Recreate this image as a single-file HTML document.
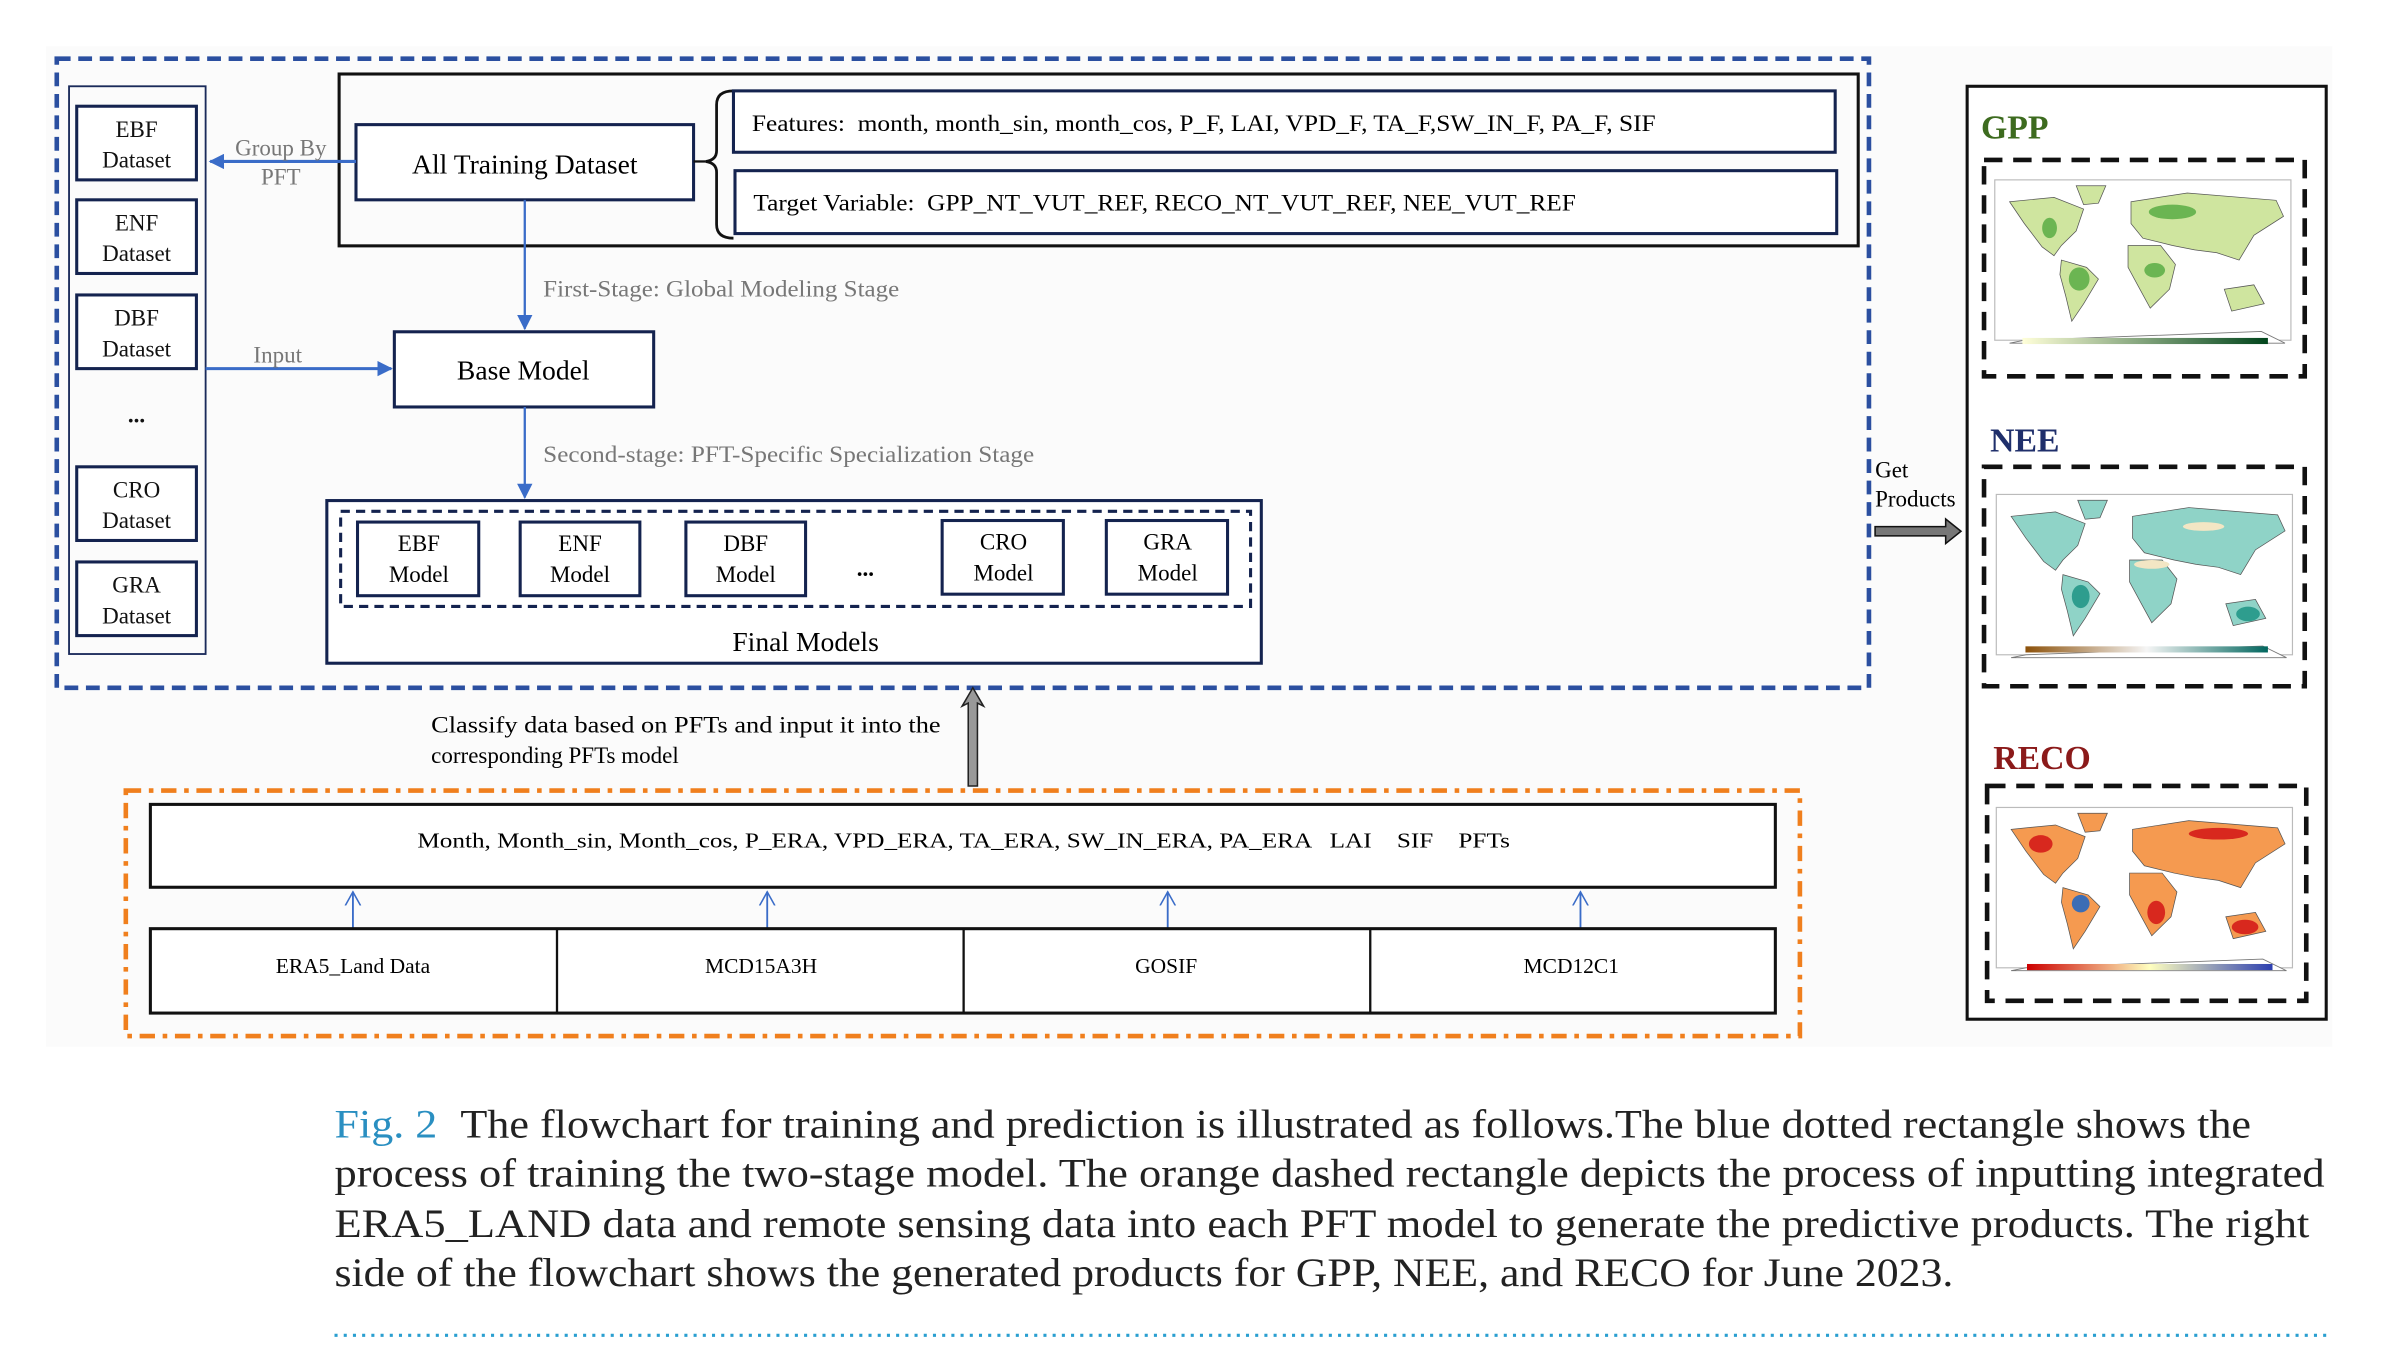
<!DOCTYPE html>
<html><head><meta charset="utf-8"><style>
html,body{margin:0;padding:0;background:#fff;}
svg{display:block;}
text{font-family:"Liberation Serif",serif;}
</style></head><body>
<svg width="2406" height="1351" viewBox="0 0 1568 880" xmlns="http://www.w3.org/2000/svg">
<defs>
<marker id="ab" markerWidth="10" markerHeight="10" refX="9" refY="5" orient="auto" markerUnits="userSpaceOnUse"><path d="M0,0 L10,5 L0,10 Z" fill="#3a6cc8"/></marker>
<marker id="ao" markerWidth="10" markerHeight="12" refX="9" refY="6" orient="auto" markerUnits="userSpaceOnUse"><path d="M0,1 L9,6 L0,11" fill="none" stroke="#3a6cc8" stroke-width="1"/></marker>
<g id="cont">
<path d="M10,15 L40,12 L60,20 L55,35 L45,45 L40,52 L32,46 L20,30 Z"/>
<path d="M55,4 L75,4 L70,16 L60,17Z"/>
<path d="M45,55 L62,60 L70,68 L60,85 L52,97 L48,80 L44,65Z"/>
<path d="M90,45 L112,45 L122,58 L118,75 L105,88 L98,75 L90,60Z"/>
<path d="M92,15 L130,9 L190,14 L195,25 L175,38 L165,55 L150,50 L135,48 L120,45 L100,40 L92,30Z"/>
<path d="M155,75 L175,72 L182,85 L160,90Z"/>
</g>
<linearGradient id="gg"><stop offset="0" stop-color="#ffffd9"/><stop offset="1" stop-color="#00441b"/></linearGradient>
<linearGradient id="ng"><stop offset="0" stop-color="#8c510a"/><stop offset="0.5" stop-color="#f5f5f5"/><stop offset="1" stop-color="#01665e"/></linearGradient>
<linearGradient id="rg"><stop offset="0" stop-color="#c00"/><stop offset="0.5" stop-color="#ffffbf"/><stop offset="1" stop-color="#2c3fb0"/></linearGradient>
</defs>
<rect x="30" y="30" width="1490" height="652" fill="#fbfbfb"/>
<rect x="37" y="38" width="1181" height="410" fill="none" stroke="#2b4fa0" stroke-width="3" stroke-dasharray="9,5"/>
<rect x="45" y="56" width="89" height="370" fill="none" stroke="#1a2a5a" stroke-width="1.2"/>
<g fill="#fff" stroke="#14234f" stroke-width="2">
<rect x="50" y="69" width="78" height="48"/><rect x="50" y="130" width="78" height="48"/><rect x="50" y="192" width="78" height="48"/>
<rect x="50" y="304" width="78" height="48"/><rect x="50" y="366" width="78" height="48"/>
</g>
<g font-size="15" text-anchor="middle" fill="#111">
<text x="89" y="89">EBF</text><text x="89" y="109">Dataset</text>
<text x="89" y="150">ENF</text><text x="89" y="170">Dataset</text>
<text x="89" y="212">DBF</text><text x="89" y="232">Dataset</text>
<text x="89" y="275" font-weight="bold">...</text>
<text x="89" y="324">CRO</text><text x="89" y="344">Dataset</text>
<text x="89" y="386">GRA</text><text x="89" y="406">Dataset</text>
</g>
<rect x="221" y="48" width="990" height="112" fill="none" stroke="#111" stroke-width="2"/>
<rect x="232" y="81" width="220" height="49" fill="#fff" stroke="#14234f" stroke-width="2"/>
<text x="342" y="113" font-size="18" text-anchor="middle">All Training Dataset</text>
<path d="M478,59 Q467,59 467,68 L467,98 Q467,104 460,105 Q467,106 467,112 L467,146 Q467,155 478,155" fill="none" stroke="#111" stroke-width="1.8"/>
<line x1="452" y1="105" x2="460" y2="105" stroke="#111" stroke-width="1.5"/>
<rect x="478" y="59" width="718" height="40" fill="#fff" stroke="#14234f" stroke-width="2"/>
<rect x="479" y="111" width="718" height="41" fill="#fff" stroke="#14234f" stroke-width="2"/>
<text x="490" y="85" font-size="15" xml:space="preserve" textLength="589" lengthAdjust="spacingAndGlyphs">Features:  month, month_sin, month_cos, P_F, LAI, VPD_F, TA_F,SW_IN_F, PA_F, SIF</text>
<text x="491" y="137" font-size="15" xml:space="preserve" textLength="536" lengthAdjust="spacingAndGlyphs">Target Variable:  GPP_NT_VUT_REF, RECO_NT_VUT_REF, NEE_VUT_REF</text>
<line x1="232" y1="105" x2="137" y2="105" stroke="#3a6cc8" stroke-width="2" marker-end="url(#ab)"/>
<text x="183" y="101" font-size="15" fill="#777" text-anchor="middle">Group By</text>
<text x="183" y="120" font-size="15" fill="#777" text-anchor="middle">PFT</text>
<line x1="342" y1="130" x2="342" y2="214" stroke="#3a6cc8" stroke-width="1.5" marker-end="url(#ab)"/>
<text x="354" y="193" font-size="15" fill="#777" textLength="232" lengthAdjust="spacingAndGlyphs">First-Stage: Global Modeling Stage</text>
<rect x="257" y="216" width="169" height="49" fill="#fff" stroke="#14234f" stroke-width="2"/>
<text x="341" y="247" font-size="18" text-anchor="middle">Base Model</text>
<line x1="134" y1="240" x2="255" y2="240" stroke="#3a6cc8" stroke-width="2" marker-end="url(#ab)"/>
<text x="181" y="236" font-size="15" fill="#777" text-anchor="middle">Input</text>
<line x1="342" y1="265" x2="342" y2="324" stroke="#3a6cc8" stroke-width="1.5" marker-end="url(#ab)"/>
<text x="354" y="301" font-size="15" fill="#777" textLength="320" lengthAdjust="spacingAndGlyphs">Second-stage: PFT-Specific Specialization Stage</text>
<rect x="213" y="326" width="609" height="106" fill="#fff" stroke="#14234f" stroke-width="2"/>
<rect x="222" y="333" width="593" height="62" fill="none" stroke="#14234f" stroke-width="2" stroke-dasharray="6,4"/>
<g fill="#fff" stroke="#14234f" stroke-width="2">
<rect x="233" y="340" width="79" height="48"/><rect x="339" y="340" width="78" height="48"/><rect x="447" y="340" width="78" height="48"/>
<rect x="614" y="339" width="79" height="48"/><rect x="721" y="339" width="79" height="48"/>
</g>
<g font-size="15" text-anchor="middle">
<text x="273" y="359">EBF</text><text x="273" y="379">Model</text>
<text x="378" y="359">ENF</text><text x="378" y="379">Model</text>
<text x="486" y="359">DBF</text><text x="486" y="379">Model</text>
<text x="564" y="375" font-weight="bold">...</text>
<text x="654" y="358">CRO</text><text x="654" y="378">Model</text>
<text x="761" y="358">GRA</text><text x="761" y="378">Model</text>
</g>
<text x="525" y="424" font-size="18" text-anchor="middle">Final Models</text>
<text x="1222" y="311" font-size="15">Get</text>
<text x="1222" y="330" font-size="15">Products</text>
<path d="M1222,343 L1268,343 L1268,338 L1278,346 L1268,354 L1268,349 L1222,349 Z" fill="#777" stroke="#111" stroke-width="1"/>
<rect x="1282" y="56" width="234" height="608" fill="#fff" stroke="#111" stroke-width="2"/>
<text x="1291" y="90" font-size="22" font-weight="bold" fill="#3d6b1f">GPP</text>
<text x="1297" y="294" font-size="22" font-weight="bold" fill="#1f2f6b">NEE</text>
<text x="1299" y="501" font-size="22" font-weight="bold" fill="#8b1a1a">RECO</text>
<g fill="none" stroke="#111" stroke-width="3" stroke-dasharray="12,7">
<rect x="1293" y="104" width="209" height="141"/>
<rect x="1293" y="304" width="209" height="143"/>
<rect x="1295" y="512" width="208" height="140"/>
</g>
<g transform="translate(1300,117) scale(0.965,0.95)">
<rect x="0" y="0" width="200" height="110" fill="#fff" stroke="#bbb" stroke-width="0.8"/>
<g fill="#cfe59f" stroke="#555" stroke-width="0.5"><use href="#cont"/></g>
<path d="M20,110 L180,104 L196,112 L10,112Z" fill="#fff" stroke="#777" stroke-width="0.6"/>
<g fill="#6bb552"><ellipse cx="57" cy="68" rx="7" ry="8"/><ellipse cx="37" cy="33" rx="5" ry="7"/><ellipse cx="120" cy="22" rx="16" ry="5"/><ellipse cx="108" cy="62" rx="7" ry="5"/></g>
</g>
<rect x="1318" y="220" width="160" height="4" fill="url(#gg)"/>
<g transform="translate(1301,322) scale(0.965,0.95)">
<rect x="0" y="0" width="200" height="110" fill="#fff" stroke="#bbb" stroke-width="0.8"/>
<g fill="#8fd3c7" stroke="#555" stroke-width="0.5"><use href="#cont"/></g>
<path d="M20,110 L180,104 L196,112 L10,112Z" fill="#fff" stroke="#777" stroke-width="0.6"/>
<g fill="#2e9d8e"><ellipse cx="170" cy="82" rx="8" ry="5"/><ellipse cx="57" cy="70" rx="6" ry="8"/></g>
<g fill="#f3e6c4"><ellipse cx="105" cy="48" rx="12" ry="3"/><ellipse cx="140" cy="22" rx="14" ry="3"/></g>
</g>
<rect x="1320" y="421" width="158" height="4" fill="url(#ng)"/>
<g transform="translate(1301,526) scale(0.965,0.95)">
<rect x="0" y="0" width="200" height="110" fill="#fff" stroke="#bbb" stroke-width="0.8"/>
<g fill="#f59a50" stroke="#555" stroke-width="0.5"><use href="#cont"/></g>
<path d="M20,110 L180,104 L196,112 L10,112Z" fill="#fff" stroke="#777" stroke-width="0.6"/>
<g fill="#d8281e"><ellipse cx="168" cy="82" rx="9" ry="5"/><ellipse cx="108" cy="72" rx="6" ry="8"/><ellipse cx="30" cy="25" rx="8" ry="6"/><ellipse cx="150" cy="18" rx="20" ry="4"/></g>
<ellipse cx="57" cy="66" rx="6" ry="6" fill="#3b6db5"/>
</g>
<rect x="1321" y="628" width="160" height="4" fill="url(#rg)"/>
<path d="M631,512 L631,458 L627,460 L634,448 L641,460 L637,458 L637,512 Z" fill="#999" stroke="#222" stroke-width="1"/>
<text x="281" y="477" font-size="15" textLength="332" lengthAdjust="spacingAndGlyphs">Classify data based on PFTs and input it into the</text>
<text x="281" y="497" font-size="15">corresponding PFTs model</text>
<rect x="82" y="515" width="1091" height="160" fill="none" stroke="#f07f1d" stroke-width="3" stroke-dasharray="10,5,3,5"/>
<rect x="98" y="524" width="1059" height="54" fill="#fff" stroke="#111" stroke-width="2"/>
<text x="272" y="552" font-size="14" xml:space="preserve" textLength="712" lengthAdjust="spacingAndGlyphs">Month, Month_sin, Month_cos, P_ERA, VPD_ERA, TA_ERA, SW_IN_ERA, PA_ERA   LAI    SIF    PFTs</text>
<g stroke="#3a6cc8" stroke-width="1.2">
<line x1="230" y1="605" x2="230" y2="581" marker-end="url(#ao)"/>
<line x1="500" y1="605" x2="500" y2="581" marker-end="url(#ao)"/>
<line x1="761" y1="605" x2="761" y2="581" marker-end="url(#ao)"/>
<line x1="1030" y1="605" x2="1030" y2="581" marker-end="url(#ao)"/>
</g>
<rect x="98" y="605" width="1059" height="55" fill="#fff" stroke="#111" stroke-width="2"/>
<g stroke="#111" stroke-width="1.5"><line x1="363" y1="605" x2="363" y2="660"/><line x1="628" y1="605" x2="628" y2="660"/><line x1="893" y1="605" x2="893" y2="660"/></g>
<g font-size="14" text-anchor="middle">
<text x="230" y="634">ERA5_Land Data</text><text x="496" y="634">MCD15A3H</text><text x="760" y="634">GOSIF</text><text x="1024" y="634">MCD12C1</text>
</g>
<g font-size="26" fill="#222">
<text x="218" y="741" fill="#2a8fc1" textLength="67" lengthAdjust="spacingAndGlyphs">Fig. 2</text>
<text x="300" y="741" textLength="1167" lengthAdjust="spacingAndGlyphs">The flowchart for training and prediction is illustrated as follows.The blue dotted rectangle shows the</text>
<text x="218" y="773" textLength="1297" lengthAdjust="spacingAndGlyphs">process of training the two-stage model. The orange dashed rectangle depicts the process of inputting integrated</text>
<text x="218" y="806" textLength="1287" lengthAdjust="spacingAndGlyphs">ERA5_LAND data and remote sensing data into each PFT model to generate the predictive products. The right</text>
<text x="218" y="838" textLength="1055" lengthAdjust="spacingAndGlyphs">side of the flowchart shows the generated products for GPP, NEE, and RECO for June 2023.</text>
</g>
<line x1="218" y1="870" x2="1520" y2="870" stroke="#2a9fd0" stroke-width="2" stroke-dasharray="2,4"/>
</svg>
</body></html>
